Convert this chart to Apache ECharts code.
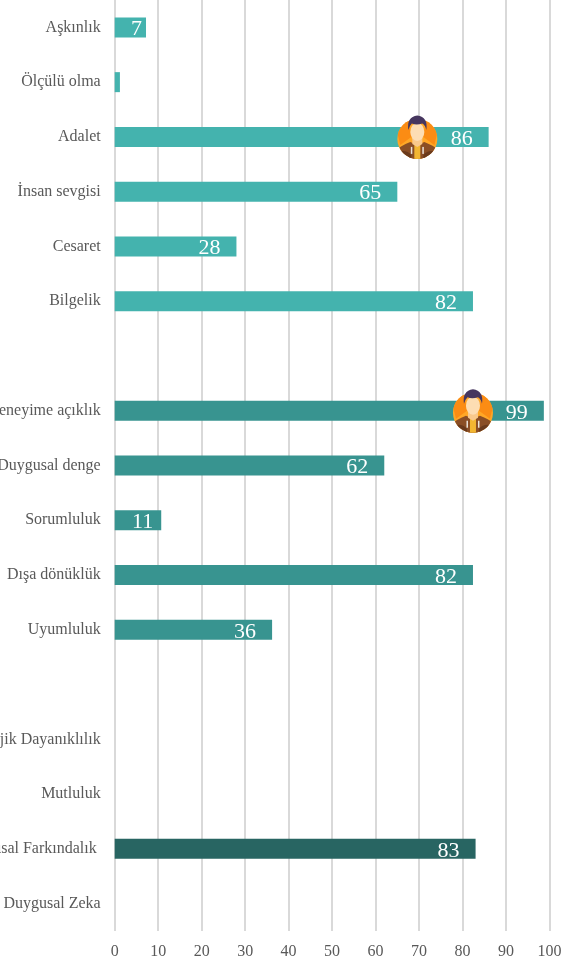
<!DOCTYPE html>
<html>
<head>
<meta charset="utf-8">
<style>html,body{margin:0;padding:0;background:#fff}#c{width:565px;height:964px}</style>
<script src="https://cdn.jsdelivr.net/npm/echarts@6/dist/echarts.min.js"></script>
</head>
<body>
<div id="c"></div>
<script>
const categories = ['Aşkınlık','Ölçülü olma','Adalet','İnsan sevgisi','Cesaret','Bilgelik','',
  'Deneyime açıklık','Duygusal denge','Sorumluluk','Dışa dönüklük','Uyumluluk','',
  'Psikolojik Dayanıklılık','Mutluluk','Duygusal Farkındalık ','Duygusal Zeka'];
const virtueValues = [7.2,1.2,86,65,28,82.4,null,null,null,null,null,null,null,null,null,null,null];
const traitValues  = [null,null,null,null,null,null,null,98.7,62,10.7,82.4,36.2,null,null,null,null,null];
const eqValues     = [null,null,null,null,null,null,null,null,null,null,null,null,null,null,null,83,null];
const avatarPoints = [[69.6,'Adalet'],[82.4,'Deneyime açıklık']];

const avatarSvg = `<svg xmlns="http://www.w3.org/2000/svg" viewBox="0 0 84 92">
<defs><clipPath id="k"><circle cx="42" cy="50" r="40"/></clipPath></defs>
<g clip-path="url(#k)">
<rect width="84" height="92" fill="#FFA726"/>
<path d="M0 30L24 10L30 46L8 62Z" fill="#FB8C14"/>
<path d="M84 30L60 10L54 46L76 62Z" fill="#FB8C14"/>
<path d="M0 92V72Q8 64 28 56L42 62L56 56Q76 64 84 72V92Z" fill="#8A4E25"/>
<path d="M2 92V76Q20 70 30 82V92Z" fill="#6A3A1C"/>
<path d="M82 92V76Q64 70 54 82V92Z" fill="#6A3A1C"/>
<rect x="36" y="60" width="12" height="32" fill="#F2B632"/>
<rect x="29" y="66" width="3" height="14" fill="#E9E2DA"/>
<rect x="52" y="66" width="3" height="14" fill="#E9E2DA"/>
</g>
<path d="M32 40H52V60L42 66L32 60Z" fill="#F9C98C"/>
<ellipse cx="42" cy="36" rx="14" ry="18" fill="#FDDDB3"/>
<path d="M24 32Q20 6 42 3Q64 6 60 32Q58 22 52 19Q40 23 31 19Q26 24 24 32Z" fill="#46365F"/>
</svg>`;
const avatarUri = 'image://data:image/svg+xml;charset=utf-8,' + encodeURIComponent(avatarSvg);

function labelDistance(v){ return v < 10 ? 4 : v < 20 ? 8 : 16; }
function items(arr){
  return arr.map(v => v == null ? null : ({
    value: v,
    label: { show: v >= 2, distance: labelDistance(v) }
  }));
}
function barSeries(values, color, extra){
  return Object.assign({
    type: 'bar',
    stack: 'all',
    data: items(values),
    barWidth: 20,
    itemStyle: { color },
    label: {
      show: true, position: 'insideRight', color: '#fff',
      fontFamily: 'Liberation Serif', fontSize: 22, offset: [0, 2],
      formatter: p => String(Math.round(p.value))
    }
  }, extra || {});
}
function avatarMark(point){
  return { symbol: avatarUri, symbolSize: [42, 46], symbolOffset: [0, 0], label: { show: false },
           silent: true, data: [{ coord: point }], z: 10 };
}
const chart = echarts.init(document.getElementById('c'));
chart.setOption({
  animation: false,
  backgroundColor: '#fff',
  grid: { left: 114.7, right: 15.5, top: 0, bottom: 33, containLabel: false, outerBoundsMode: 'none' },
  xAxis: {
    type: 'value', min: 0, max: 100, interval: 10,
    axisLine: { show: false }, axisTick: { show: false },
    splitLine: { show: true, lineStyle: { color: '#D9D9D9', width: 2 } },
    axisLabel: { color: '#595959', fontFamily: 'Liberation Serif', fontSize: 16, margin: 13 }
  },
  yAxis: {
    type: 'category', inverse: true, data: categories,
    axisLine: { show: false }, axisTick: { show: false },
    axisLabel: { color: '#595959', fontFamily: 'Liberation Serif', fontSize: 16, margin: 14, interval: 0, padding: [5, 0, 0, 0] }
  },
  series: [
    barSeries(virtueValues, '#44B3AE', { markPoint: avatarMark(avatarPoints[0]) }),
    barSeries(traitValues, '#389490', { markPoint: avatarMark(avatarPoints[1]) }),
    barSeries(eqValues, '#286562')
  ]
});
</script>
</body>
</html>
